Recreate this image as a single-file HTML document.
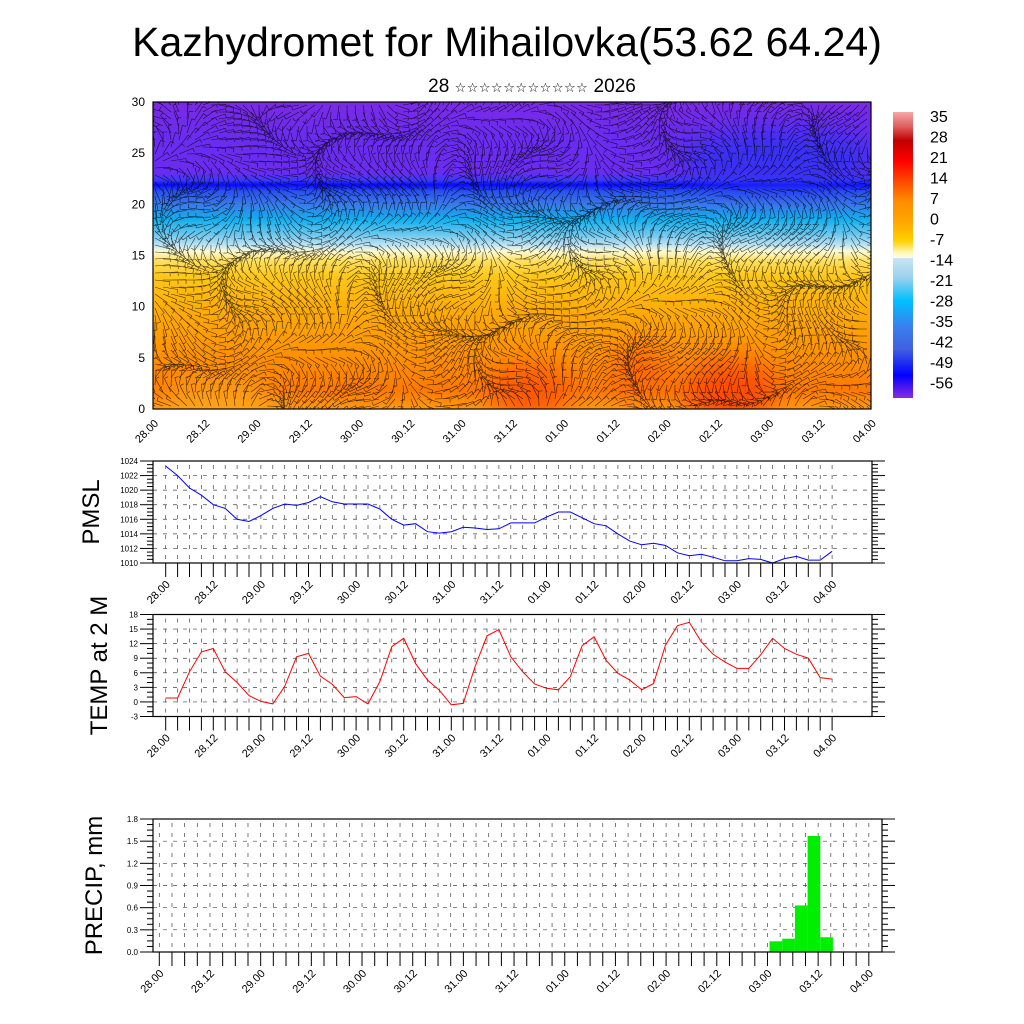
<!DOCTYPE html>
<html><head><meta charset="utf-8"><style>
html,body{margin:0;padding:0;background:#fff;}
svg{display:block;font-family:"Liberation Sans","DejaVu Sans",sans-serif;}
</style></head><body>
<svg id="c" width="1024" height="1024" viewBox="0 0 1024 1024" xmlns="http://www.w3.org/2000/svg">
<defs>
<linearGradient id="tg" x1="0" y1="0" x2="0" y2="1">
<stop offset="0" stop-color="#7a2ae6"/><stop offset="0.12" stop-color="#6a2cf0"/><stop offset="0.23" stop-color="#6a2cf0"/>
<stop offset="0.255" stop-color="#3a3af8"/><stop offset="0.27" stop-color="#0a0aff"/><stop offset="0.29" stop-color="#2850f0"/>
<stop offset="0.333" stop-color="#3a7ae8"/><stop offset="0.383" stop-color="#10b0f0"/><stop offset="0.433" stop-color="#70c8ee"/>
<stop offset="0.467" stop-color="#c0e4f2"/><stop offset="0.487" stop-color="#fffbd0"/><stop offset="0.517" stop-color="#ffe060"/>
<stop offset="0.567" stop-color="#ffc818"/><stop offset="0.667" stop-color="#ffae08"/><stop offset="0.833" stop-color="#ff9000"/>
<stop offset="0.94" stop-color="#ff7a00"/><stop offset="1" stop-color="#ff9a10"/>
</linearGradient>
<linearGradient id="cb" x1="0" y1="0" x2="0" y2="1">
<stop offset="0" stop-color="#f5a8a8"/><stop offset="0.05" stop-color="#e06060"/><stop offset="0.1" stop-color="#c00000"/>
<stop offset="0.17" stop-color="#ff0000"/><stop offset="0.24" stop-color="#ff4500"/><stop offset="0.31" stop-color="#ff8c00"/>
<stop offset="0.38" stop-color="#ffa500"/><stop offset="0.45" stop-color="#ffd000"/><stop offset="0.49" stop-color="#fff5b0"/>
<stop offset="0.51" stop-color="#fffff0"/><stop offset="0.51" stop-color="#c8e6f4"/><stop offset="0.58" stop-color="#9ad0ec"/>
<stop offset="0.66" stop-color="#00bfff"/><stop offset="0.75" stop-color="#3a80f0"/><stop offset="0.83" stop-color="#4060e0"/>
<stop offset="0.92" stop-color="#0000ff"/><stop offset="1" stop-color="#8a2be2"/>
</linearGradient>
<filter id="bl" x="-50%" y="-50%" width="200%" height="200%"><feGaussianBlur stdDeviation="14"/></filter>
<clipPath id="tc"><rect x="153" y="102" width="718" height="307"/></clipPath>
</defs>
<text x="507" y="56" font-size="41" text-anchor="middle">Kazhydromet for Mihailovka(53.62 64.24)</text>
<text x="532" y="92" font-size="19" text-anchor="middle">28 <tspan font-size="13" letter-spacing="0.5" font-family="DejaVu Sans">☆☆☆☆☆☆☆☆☆☆☆</tspan> 2026</text>

<g>
<g clip-path="url(#tc)">
<rect x="153" y="102" width="718" height="307" fill="url(#tg)"/>
<g filter="url(#bl)" opacity="0.8">
<ellipse cx="780" cy="160" rx="100" ry="30" fill="#2a30f5"/>
<ellipse cx="530" cy="395" rx="40" ry="30" fill="#ff5000"/>
<ellipse cx="730" cy="395" rx="45" ry="35" fill="#ff4000"/>
<ellipse cx="640" cy="370" rx="30" ry="25" fill="#ff6000"/>
<ellipse cx="220" cy="395" rx="60" ry="15" fill="#ffb020"/>
</g>
<g id="barbs" stroke="#000" stroke-width="0.6" stroke-opacity="0.75" fill="none"></g>
</g>
<rect x="153" y="102" width="718" height="307" fill="none" stroke="#000" stroke-width="1.2"/>
<g id="topax" font-size="12"></g>
</g>

<g>
<rect x="893" y="112" width="20" height="286" fill="url(#cb)"/>
<g id="cbl" font-size="16"></g>
</g>

<g id="pmsl"></g>
<g id="temp"></g>
<g id="prec"></g>
</svg>
<script>
const timeLabels=["28.00","28.12","29.00","29.12","30.00","30.12","31.00","31.12","01.00","01.12","02.00","02.12","03.00","03.12","04.00"];
const pmslValues=[1023.3,1022.0,1020.3,1019.3,1018.0,1017.5,1016.0,1015.7,1016.5,1017.5,1018.1,1017.9,1018.3,1019.1,1018.4,1018.1,1018.1,1018.1,1017.4,1016.0,1015.2,1015.4,1014.3,1014.1,1014.3,1014.9,1014.8,1014.6,1014.7,1015.5,1015.5,1015.5,1016.3,1017.0,1017.0,1016.2,1015.4,1015.1,1014.0,1013.0,1012.5,1012.7,1012.4,1011.4,1011.0,1011.2,1010.8,1010.3,1010.3,1010.6,1010.5,1010.0,1010.6,1010.9,1010.4,1010.4,1011.6];
const tempValues=[0.8,0.8,6.2,10.3,11.0,6.2,4.0,1.3,0.1,-0.4,3.2,9.3,10.0,5.3,3.6,0.9,1.1,-0.4,4.2,11.4,13.1,7.9,4.5,2.4,-0.6,-0.3,7.3,13.6,14.9,9.3,6.2,3.7,2.8,2.5,5.2,11.6,13.4,8.6,5.9,4.5,2.5,3.8,11.7,15.7,16.4,12.4,9.8,8.2,6.9,6.9,9.7,13.1,11.0,9.8,9.0,5.0,4.7];
const precipHours=[146,149,152,155,158];
const precipValues=[0.145,0.18,0.63,1.57,0.2];
const pmslTicks=[1010,1012,1014,1016,1018,1020,1022,1024];
const tempTicks=[-3,0,3,6,9,12,15,18];
const precipTicks=[0.0,0.3,0.6,0.9,1.2,1.5,1.8];
const fieldYTicks=[0,5,10,15,20,25,30];
const cbLabels=["35","28","21","14","7","0","-7","-14","-21","-28","-35","-42","-49","-56"];

const NS="http://www.w3.org/2000/svg";
function mk(p,tag,at,txt){const e=document.createElementNS(NS,tag);for(const k in at)e.setAttribute(k,at[k]);if(txt!==undefined)e.textContent=txt;p.appendChild(e);return e;}

(function(){const g=document.getElementById('barbs');let d='';
for(let y=105;y<409;y+=7){for(let x=155;x<871;x+=8){
const a=Math.sin(x*0.021+y*0.017)*1.6+Math.cos(y*0.043-x*0.013)*1.3+Math.sin(x*0.07)*0.4;
const L=15,dx=Math.cos(a)*L,dy=Math.sin(a)*L;
d+=`M${x.toFixed(1)} ${y.toFixed(1)}l${dx.toFixed(1)} ${dy.toFixed(1)}`;
const bx=-Math.sin(a)*4,by=Math.cos(a)*4;
d+=`m0 0l${bx.toFixed(1)} ${by.toFixed(1)}`;}}
const p=mk(g,'path',{d:d});

})();

(function(){const g=document.getElementById('topax');
const fy=v=>409-v*307/30;const fx=h=>153+h*(717.7/168);
fieldYTicks.forEach(v=>{const t=mk(g,'text',{x:145,y:fy(v)+4,'text-anchor':'end'},String(v));

});
timeLabels.forEach((s,i)=>{const x=fx(i*12);const t=mk(g,'text',{x:0,y:0,'text-anchor':'end','font-size':11,transform:`translate(${x+6},${424}) rotate(-45)`},s);

});})();

(function(){const g=document.getElementById('cbl');
cbLabels.forEach((s,i)=>{const t=mk(g,'text',{x:930,y:122+i*20.5},s);

});})();

function panel(id,o){
const g=document.getElementById(id);
const L=153,R=o.R,T=o.T,B=o.B;
const fy=v=>B-(v-o.min)/(o.max-o.min)*(B-T);
const fx=o.fx;
const gridG=mk(g,'g',{stroke:'#444','stroke-width':0.7,'stroke-dasharray':'4 6',fill:'none'});
o.ticks.forEach(v=>{if(v>o.min&&v<o.max){const l=mk(gridG,'line',{x1:L,x2:R,y1:fy(v),y2:fy(v)});

}});
for(let i=0;i<=o.nTicks;i++){const x=fx(i*3);const l=mk(gridG,'line',{x1:x,x2:x,y1:T+4,y2:B});

}
const ax=mk(g,'g',{stroke:'#000','stroke-width':1,fill:'none'});
const step=o.ticks[1]-o.ticks[0];
for(let k=0;k<o.ticks.length-1;k++){for(let m=1;m<=o.minor;m++){const v=o.ticks[k]+step*m/(o.minor+1);
mk(ax,'line',{x1:L-6,x2:L,y1:fy(v),y2:fy(v)});mk(ax,'line',{x1:R,x2:R+6,y1:fy(v),y2:fy(v)});}}
o.ticks.forEach(v=>{mk(ax,'line',{x1:L-13,x2:L,y1:fy(v),y2:fy(v)});mk(ax,'line',{x1:R,x2:R+13,y1:fy(v),y2:fy(v)});
const t=mk(g,'text',{x:L-15,y:fy(v)+3,'text-anchor':'end','font-size':8},o.fmt(v));

});
for(let i=0;i<=o.nTicks;i++){const x=fx(i*3);mk(ax,'line',{x1:x,x2:x,y1:B,y2:B+14});}
timeLabels.forEach((s,i)=>{const x=fx(i*12);const t=mk(g,'text',{x:0,y:0,'text-anchor':'end','font-size':11,transform:`translate(${x+5},${B+22}) rotate(-45)`},s);

});
o.draw(g,fx,fy);
const fr=mk(g,'rect',{x:L,y:T,width:R-L,height:B-T,fill:'none',stroke:'#000','stroke-width':1.2});


const yt=mk(g,'text',{x:0,y:0,'text-anchor':'middle','font-size':24,transform:`translate(${o.tx},${(T+B)/2}) rotate(-90)`},o.title);


}
const fxa=h=>165.7+h*(11.9/3);
panel('pmsl',{T:461,B:563,R:872,min:1010,max:1024,ticks:pmslTicks,minor:3,nTicks:56,fx:fxa,fmt:v=>String(v),title:'PMSL',tx:99,
draw:(g,fx,fy)=>{const p=mk(g,'polyline',{points:pmslValues.map((v,i)=>fx(i*3).toFixed(1)+','+fy(v).toFixed(1)).join(' '),fill:'none',stroke:'#0000ff','stroke-width':1});

}});
panel('temp',{T:614.5,B:716.5,R:872,min:-3,max:18,ticks:tempTicks,minor:2,nTicks:56,fx:fxa,fmt:v=>String(v),title:'TEMP at 2 M',tx:107,
draw:(g,fx,fy)=>{const p=mk(g,'polyline',{points:tempValues.map((v,i)=>fx(i*3).toFixed(1)+','+fy(v).toFixed(1)).join(' '),fill:'none',stroke:'#ff0000','stroke-width':1});

}});
const fxp=h=>159.3+h*(12.67/3);
panel('prec',{T:819,B:952,R:882,min:0,max:1.8,ticks:precipTicks,minor:3,nTicks:56,fx:fxp,fmt:v=>v.toFixed(1),title:'PRECIP, mm',tx:102,
draw:(g,fx,fy)=>{precipValues.forEach((v,i)=>{const c=fx(precipHours[i]);const w=12.67;
const r=mk(g,'rect',{x:c-w/2,y:fy(v),width:w,height:fy(0)-fy(v),fill:'#00ee00'});

});}});
</script>
</body></html>
